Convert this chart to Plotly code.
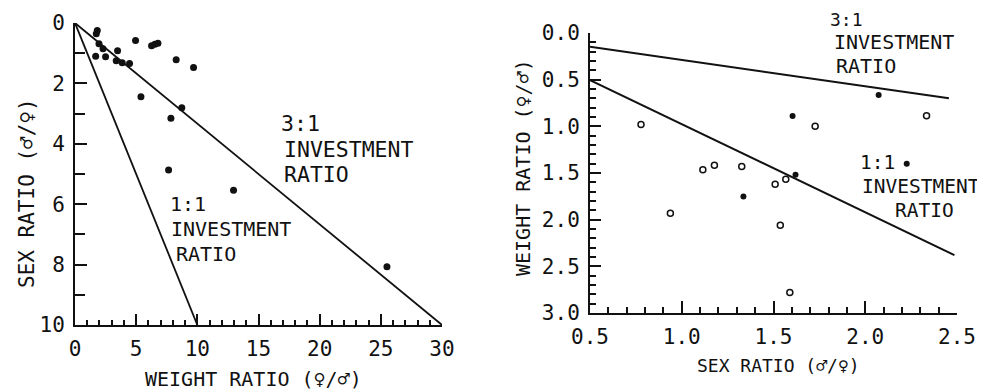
import plotly.graph_objects as go

# ---------------- data ----------------
# Left panel: weight ratio (female/male) vs sex ratio (male/female)
left_weight_ratio = [1.82, 1.74, 1.96, 2.29, 1.69, 2.50, 3.48, 3.37, 3.86, 4.46,
                     4.95, 6.26, 6.53, 6.78, 8.27, 9.69, 5.39, 8.73, 7.84, 7.65,
                     12.96, 25.5]
left_sex_ratio = [0.25, 0.36, 0.69, 0.85, 1.10, 1.12, 0.92, 1.25, 1.32, 1.34,
                  0.58, 0.75, 0.70, 0.67, 1.22, 1.47, 2.44, 2.81, 3.15, 4.87,
                  5.54, 8.07]
left_line_1to1_x = [0, 10]
left_line_1to1_y = [0, 10]
left_line_3to1_x = [0, 30]
left_line_3to1_y = [0, 10]

# Right panel: sex ratio (male/female) vs weight ratio (female/male)
right_open_sex = [0.778, 1.115, 1.178, 1.327, 0.938, 1.509, 1.567, 1.537, 1.589, 1.727, 2.334]
right_open_weight = [0.98, 1.466, 1.416, 1.43, 1.93, 1.62, 1.567, 2.06, 2.78, 1.00, 0.887]
right_filled_sex = [1.336, 1.604, 1.620, 2.073, 2.226]
right_filled_weight = [1.753, 0.889, 1.52, 0.664, 1.40]
right_line_3to1_x = [0.5, 2.456]
right_line_3to1_y = [0.147, 0.70]
right_line_1to1_x = [0.5, 2.486]
right_line_1to1_y = [0.505, 2.38]

left_x_ticks = [0, 5, 10, 15, 20, 25, 30]
left_y_ticks = [0, 2, 4, 6, 8, 10]
right_x_ticks = [0.5, 1.0, 1.5, 2.0, 2.5]
right_y_ticks = [0.0, 0.5, 1.0, 1.5, 2.0, 2.5, 3.0]

# ---------------- figure ----------------
# the page body has an 8 px margin, so the figure is drawn 8 px in from the corner
OFF = 8
W, H = 985 - OFF, 392 - OFF
INK = "#111111"
FONT = "DejaVu Sans Mono, Liberation Mono, monospace"

def px(x):
    return (x - OFF) / W

def py(y):
    return 1 - (y - OFF) / H

fig = go.Figure()

fig.add_trace(go.Scatter(x=left_line_1to1_x, y=left_line_1to1_y, mode="lines",
                         line=dict(color=INK, width=1.8), xaxis="x", yaxis="y"))
fig.add_trace(go.Scatter(x=left_line_3to1_x, y=left_line_3to1_y, mode="lines",
                         line=dict(color=INK, width=1.8), xaxis="x", yaxis="y"))
fig.add_trace(go.Scatter(x=left_weight_ratio, y=left_sex_ratio, mode="markers",
                         marker=dict(color=INK, size=7), xaxis="x", yaxis="y"))

fig.add_trace(go.Scatter(x=right_line_3to1_x, y=right_line_3to1_y, mode="lines",
                         line=dict(color=INK, width=2), xaxis="x2", yaxis="y2"))
fig.add_trace(go.Scatter(x=right_line_1to1_x, y=right_line_1to1_y, mode="lines",
                         line=dict(color=INK, width=2), xaxis="x2", yaxis="y2"))
fig.add_trace(go.Scatter(x=right_open_sex, y=right_open_weight, mode="markers",
                         marker=dict(symbol="circle-open", color=INK, size=6,
                                     line=dict(color=INK, width=1.5)),
                         xaxis="x2", yaxis="y2"))
fig.add_trace(go.Scatter(x=right_filled_sex, y=right_filled_weight, mode="markers",
                         marker=dict(color=INK, size=6), xaxis="x2", yaxis="y2"))

axis_common = dict(showgrid=False, zeroline=False, showline=True, linecolor=INK,
                   linewidth=2, ticks="inside", tickcolor=INK, tickwidth=1.5,
                   tickfont=dict(family=FONT, size=21, color=INK), mirror=False,
                   automargin=False, tickmode="linear")

def lin(ticks):
    return dict(tick0=ticks[0], dtick=ticks[1] - ticks[0])

fig.update_layout(
    width=W, height=H,
    margin=dict(l=0, r=0, t=0, b=0, autoexpand=False),
    paper_bgcolor="white", plot_bgcolor="white",
    showlegend=False,
    font=dict(family=FONT, color=INK),
    xaxis=dict(**axis_common, **lin(left_x_ticks), domain=[px(75), px(442)],
               range=[left_x_ticks[0], left_x_ticks[-1]],
               ticklen=11, anchor="y", ticklabelstandoff=4,
               minor=dict(dtick=1, tick0=0, ticks="inside", ticklen=5,
                          tickcolor=INK, tickwidth=1.5)),
    yaxis=dict(**axis_common, **lin(left_y_ticks), domain=[py(325), py(23)],
               range=[left_y_ticks[-1], left_y_ticks[0]],
               ticklen=12, anchor="x", ticklabelstandoff=4,
               minor=dict(dtick=1, tick0=0, ticks="inside", ticklen=10,
                          tickcolor=INK, tickwidth=1.5)),
    xaxis2=dict(**axis_common, **lin(right_x_ticks), domain=[px(590), px(957)],
                range=[right_x_ticks[0], right_x_ticks[-1]],
                tickformat=".1f", ticklen=12, anchor="y2", ticklabelstandoff=4,
                minor=dict(dtick=0.1, tick0=0, ticks="inside", ticklen=6,
                           tickcolor=INK, tickwidth=1.5)),
    yaxis2=dict(**axis_common, **lin(right_y_ticks), domain=[py(313), py(33)],
                range=[right_y_ticks[-1], right_y_ticks[0]],
                tickformat=".1f", ticklen=11, anchor="x2", ticklabelstandoff=4,
                minor=dict(dtick=0.1, tick0=0, ticks="inside", ticklen=6,
                           tickcolor=INK, tickwidth=1.5)),
)

def label(text, x, y, size, xanchor="left", angle=0):
    fig.add_annotation(text=text, x=px(x), y=py(y), xref="paper", yref="paper",
                       xanchor=xanchor, yanchor="middle", showarrow=False,
                       textangle=angle, borderpad=0,
                       font=dict(family=FONT, size=size, color=INK))

# axis titles
label("SEX RATIO (♂/♀)", 27, 193, 21, xanchor="center", angle=-90)
label("WEIGHT RATIO (♀/♂)", 254, 379, 20, xanchor="center")
label("WEIGHT RATIO (♀/♂)", 523, 168, 20, xanchor="center", angle=-90)
label("SEX RATIO (♂/♀)", 778, 365, 18, xanchor="center")

# left panel line labels
label("3:1", 280, 123, 21.5)
label("INVESTMENT", 283, 149, 21.5)
label("RATIO", 283, 175, 21.5)
label("1:1", 169, 204, 20)
label("INVESTMENT", 170, 229, 20)
label("RATIO", 175, 254, 20)

# right panel line labels
label("3:1", 829, 19.5, 18)
label("INVESTMENT", 833, 42, 20)
label("RATIO", 835, 66, 20)
label("1:1", 859, 162, 19.5)
label("INVESTMENT", 861, 186, 19.5)
label("RATIO", 894, 210, 19.5)

fig.write_html("out.html")
